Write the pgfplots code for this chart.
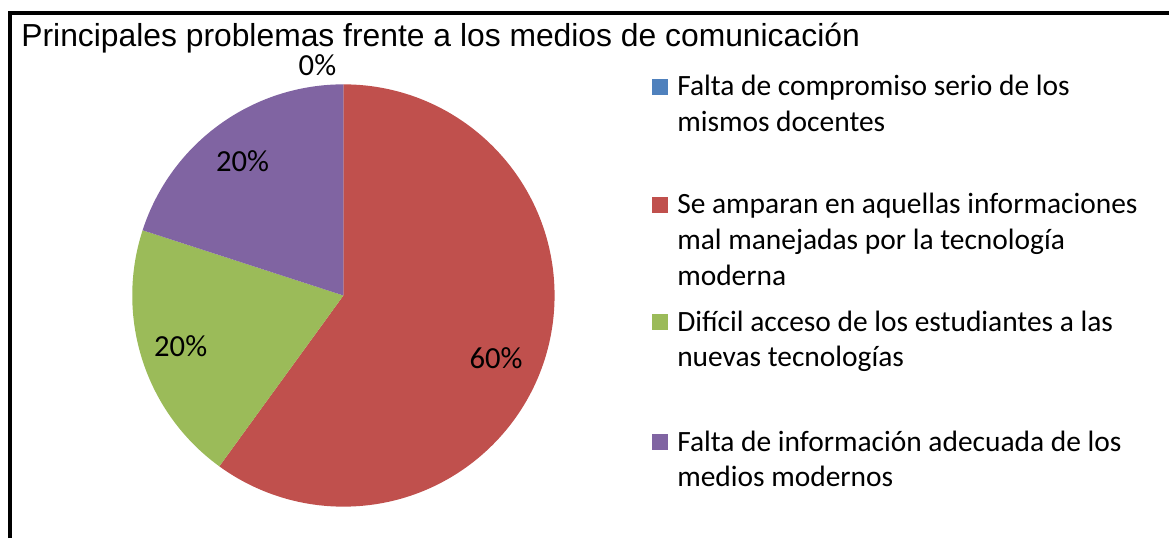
\documentclass[border=0pt]{standalone}
\usepackage{pgfplots}
\pgfplotsset{compat=1.18}
\usepackage{pgfplotstable}
\usepackage{fontspec}
\setmainfont{Carlito}
\newfontfamily\arial{Liberation Sans}
\definecolor{cA}{HTML}{4F81BD}
\definecolor{cB}{HTML}{C0504D}
\definecolor{cC}{HTML}{9BBB59}
\definecolor{cD}{HTML}{8064A2}

% slice values (percent) and label positions (px)
\pgfplotstableread{
idx value lx ly
0 0 318 76
1 60 497 369
2 20 181 357
3 20 243 172
}\piedata

\pgfplotstablegetelem{0}{value}\of\piedata\edef\vA{\pgfplotsretval}
\pgfplotstablegetelem{1}{value}\of\piedata\edef\vB{\pgfplotsretval}
\pgfplotstablegetelem{2}{value}\of\piedata\edef\vC{\pgfplotsretval}
\pgfplotstablegetelem{3}{value}\of\piedata\edef\vD{\pgfplotsretval}
\pgfplotstablegetelem{0}{lx}\of\piedata\edef\xA{\pgfplotsretval}
\pgfplotstablegetelem{1}{lx}\of\piedata\edef\xB{\pgfplotsretval}
\pgfplotstablegetelem{2}{lx}\of\piedata\edef\xC{\pgfplotsretval}
\pgfplotstablegetelem{3}{lx}\of\piedata\edef\xD{\pgfplotsretval}
\pgfplotstablegetelem{0}{ly}\of\piedata\edef\yA{\pgfplotsretval}
\pgfplotstablegetelem{1}{ly}\of\piedata\edef\yB{\pgfplotsretval}
\pgfplotstablegetelem{2}{ly}\of\piedata\edef\yC{\pgfplotsretval}
\pgfplotstablegetelem{3}{ly}\of\piedata\edef\yD{\pgfplotsretval}

\pgfmathsetmacro\aZero{90}
\pgfmathsetmacro\aOne{\aZero-3.6*\vA}
\pgfmathsetmacro\aTwo{\aOne-3.6*\vB}
\pgfmathsetmacro\aThree{\aTwo-3.6*\vC}
\pgfmathsetmacro\aFour{\aThree-3.6*\vD}

\def\R{105.75bp}

\begin{document}
\begin{tikzpicture}
\begin{axis}[
  hide axis,
  scale only axis,
  x=0.5bp, y=0.5bp,
  y dir=reverse,
  xmin=0, xmax=1171, ymin=0, ymax=539,
  clip=false,
]
\path (axis cs:0,0) rectangle (axis cs:1171,539);
% frame
\draw[line width=2bp] (axis cs:10,539) -- (axis cs:10,13) -- (axis cs:1171,13);
% title
\node[anchor=base west, inner sep=0, font=\arial\fontsize{16}{19}\selectfont] at (axis cs:21,47) {Principales problemas frente a los medios de comunicación};
% slices
\fill[cA] (axis cs:344,296) -- ++(\aZero:\R) arc[start angle=\aZero, end angle=\aOne, radius=\R] -- cycle;
\fill[cB] (axis cs:344,296) -- ++(\aOne:\R) arc[start angle=\aOne, end angle=\aTwo, radius=\R] -- cycle;
\fill[cC] (axis cs:344,296) -- ++(\aTwo:\R) arc[start angle=\aTwo, end angle=\aThree, radius=\R] -- cycle;
\fill[cD] (axis cs:344,296) -- ++(\aThree:\R) arc[start angle=\aThree, end angle=\aFour, radius=\R] -- cycle;
% labels
\begin{scope}[every node/.style={anchor=base, inner sep=0, font=\fontsize{15.4}{18}\selectfont}]
\node at (axis cs:\xA,\yA) {\vA\%};
\node at (axis cs:\xB,\yB) {\vB\%};
\node at (axis cs:\xC,\yC) {\vC\%};
\node at (axis cs:\xD,\yD) {\vD\%};
\end{scope}
% legend
\fill[cA] (axis cs:653,79) rectangle (axis cs:669,95);
\fill[cB] (axis cs:653,197) rectangle (axis cs:669,213);
\fill[cC] (axis cs:653,315) rectangle (axis cs:669,331);
\fill[cD] (axis cs:653,435) rectangle (axis cs:669,451);
\begin{scope}[every node/.style={anchor=base west, inner sep=0, font=\fontsize{14.8}{17}\selectfont}]
\node at (axis cs:678,96) {Falta de compromiso serio de los};
\node at (axis cs:678,132) {mismos docentes};
\node at (axis cs:678,214) {Se amparan en aquellas informaciones};
\node at (axis cs:678,250) {mal manejadas por la tecnología};
\node at (axis cs:678,286) {moderna};
\node at (axis cs:678,332) {Difícil acceso de los estudiantes a las};
\node at (axis cs:678,367) {nuevas tecnologías};
\node at (axis cs:678,452) {Falta de información adecuada de los};
\node at (axis cs:678,487) {medios modernos};
\end{scope}
\end{axis}
\end{tikzpicture}
\end{document}
